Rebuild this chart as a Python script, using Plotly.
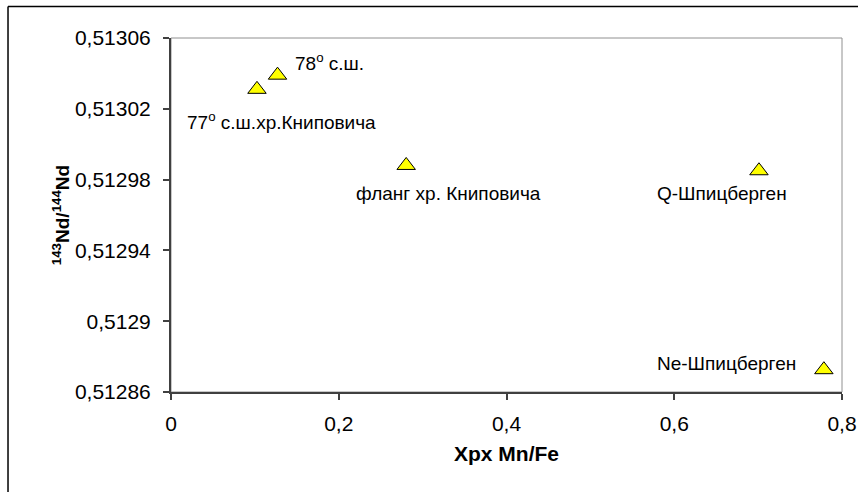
import plotly.graph_objects as go

# ---- data ----
labels = ["77<sup>o</sup> с.ш.хр.Книповича", "78<sup>o</sup> с.ш.", "фланг хр. Книповича",
          "Q-Шпицберген", "Ne-Шпицберген"]
x_vals = [0.1025, 0.127, 0.2804, 0.701, 0.7784]
y_vals = [0.513031, 0.513039, 0.512988, 0.512985, 0.5128726]

x_tickvals = [0, 0.2, 0.4, 0.6, 0.8]
x_ticktext = ["0", "0,2", "0,4", "0,6", "0,8"]
y_tickvals = [0.51286, 0.51290, 0.51294, 0.51298, 0.51302, 0.51306]
y_ticktext = ["0,51286", "0,5129", "0,51294", "0,51298", "0,51302", "0,51306"]

# label placement (style): anchor, xshift, yshift in px
label_style = [("left", -72, -32), ("left", 15, 13), ("center", 42, -28),
               ("center", -37, -23), ("right", -26, 6)]

FONT = "Liberation Sans, Arial, sans-serif"

fig = go.Figure()
fig.add_trace(go.Scatter(
    x=x_vals, y=y_vals, mode="markers",
    marker=dict(symbol="triangle-up", size=16, color="#FFFF00",
                line=dict(color="black", width=1)),
    hoverinfo="skip", showlegend=False, cliponaxis=False,
))

for (xa, xs, ys), lab, xv, yv in zip(label_style, labels, x_vals, y_vals):
    fig.add_annotation(x=xv, y=yv, text=lab, showarrow=False, xanchor=xa,
                       yanchor="middle", xshift=xs, yshift=ys,
                       font=dict(family=FONT, size=19, color="black"))

# plot-area frame (top/right gray)
fig.add_shape(type="rect", xref="paper", yref="paper", x0=0, y0=0, x1=1, y1=1,
              line=dict(color="#909090", width=1), layer="below")
# outer chart border (only left and top edges visible)
fig.add_shape(type="line", xref="paper", yref="paper",
              x0=-0.2429, y0=-0.4, x1=-0.2429, y1=1.089,
              line=dict(color="black", width=1.5), layer="below")
fig.add_shape(type="line", xref="paper", yref="paper",
              x0=-0.2429, y0=1.089, x1=1.1, y1=1.089,
              line=dict(color="black", width=1.5), layer="below")

fig.update_layout(
    width=858, height=492,
    margin=dict(l=171, r=16, t=38, b=100, pad=0),
    paper_bgcolor="white", plot_bgcolor="white",
    separators=", ",
    font=dict(family=FONT, color="black"),
    xaxis=dict(range=[0, 0.8], tickvals=x_tickvals, ticktext=x_ticktext,
               automargin=False,
               showgrid=False, zeroline=False, showline=True,
               linecolor="#404040", linewidth=2, ticks="outside", ticklen=6,
               tickcolor="#404040", tickwidth=1.5, ticklabelstandoff=6,
               tickfont=dict(family=FONT, size=21, color="black"),
               title=dict(text="<b>Xpx Mn/Fe</b>", standoff=12,
                          font=dict(family=FONT, size=21, color="black"))),
    yaxis=dict(range=[0.51286, 0.51306], tickvals=y_tickvals, ticktext=y_ticktext,
               automargin=False,
               showgrid=False, zeroline=False, showline=True,
               linecolor="#404040", linewidth=2, ticks="outside", ticklen=6,
               tickcolor="#404040", tickwidth=1.5, ticklabelstandoff=8,
               tickfont=dict(family=FONT, size=21, color="black"),
               title=dict(text="<b><sup>143</sup>Nd/<sup>144</sup>Nd</b>", standoff=0,
                          font=dict(family=FONT, size=19, color="black"))),
)

fig.write_html("out.html")
